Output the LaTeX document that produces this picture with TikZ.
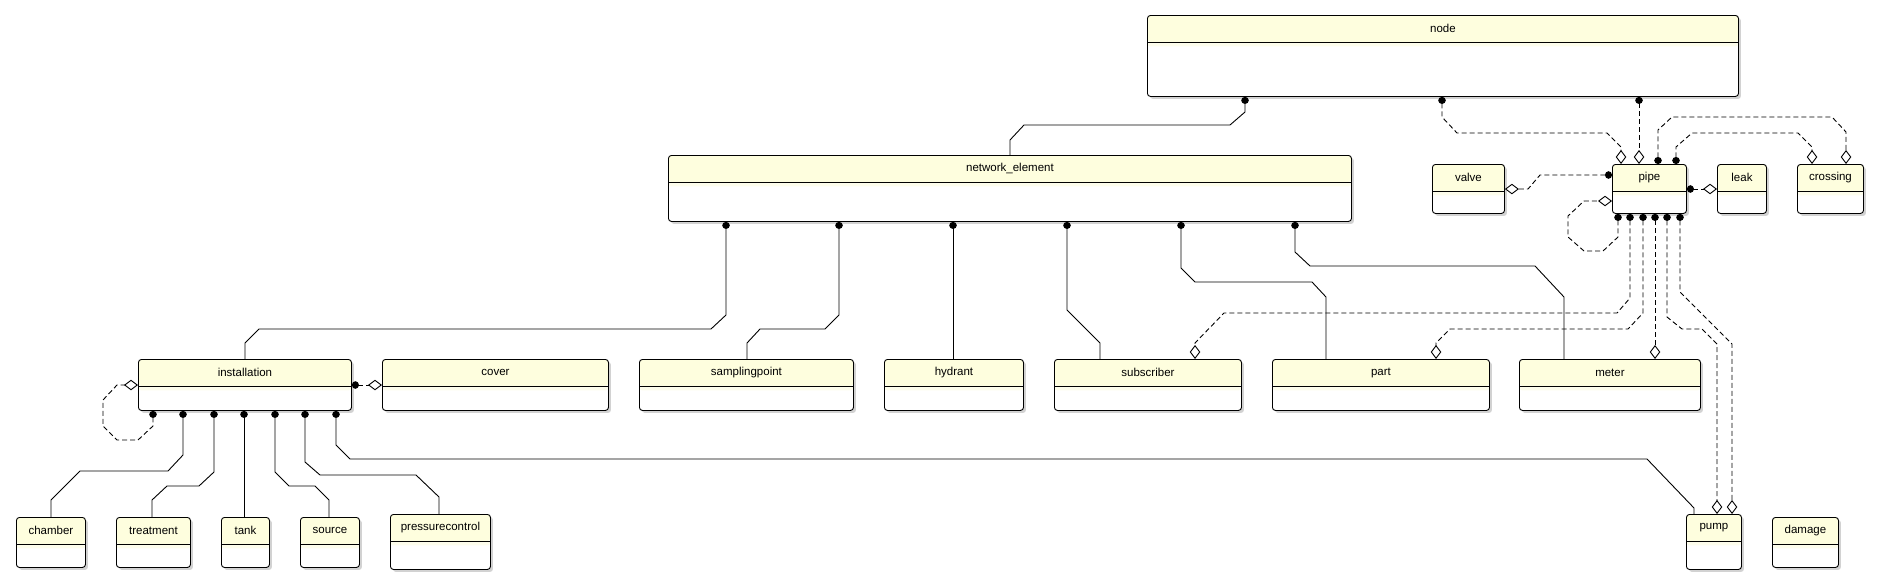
\documentclass[tikz,border=0pt]{standalone}
\usepackage{fontspec}
\setmainfont{Liberation Sans}
\usetikzlibrary{arrows.meta,shadows}
\definecolor{hdr}{RGB}{254,254,222}
\definecolor{band}{RGB}{253,253,236}
\tikzset{
 cls/.style={draw, line width=0.9pt, rounded corners=3pt, fill=white, inner sep=0pt,
   drop shadow={shadow xshift=2.5pt, shadow yshift=-2.5pt, opacity=0.25, fill=black!70},
   path picture={
     \fill[hdr] (path picture bounding box.north west) rectangle ([yshift=-26.5pt]path picture bounding box.north east);
     \fill[band] ([yshift=-26.5pt]path picture bounding box.north west) rectangle ([yshift=-31pt]path picture bounding box.north east);
     \draw[line width=0.9pt] ([yshift=-26.5pt]path picture bounding box.north west) -- ([yshift=-26.5pt]path picture bounding box.north east);
   }},
 lbl/.style={font=\fontsize{11.5}{13}\selectfont, inner sep=0pt},
 con/.style={line width=0.9pt, {Circle[length=7pt,width=7.5pt]}-},
 agg/.style={line width=0.9pt, dash pattern=on 5pt off 3pt, {Circle[length=7pt,width=7.5pt]}-{Diamond[open,length=14pt,width=10.5pt]}},
}
\newcommand{\umlc}[6]{%
 \node[cls, minimum width={(#4-#2)*1pt}, minimum height={(#5-#3)*1pt}, anchor=north west] (#1) at (#2,#3) {};
 \node[lbl] (#1-t) at ([yshift=-13.5pt]#1.north) {#6};}
\begin{document}
\begin{tikzpicture}[x=1pt,y=-1pt]
\useasboundingbox (0,0) rectangle (1879,584);
% classes
\umlc{nd}{1147}{15}{1738}{96}{node}
\umlc{netel}{668}{155}{1351}{221}{network\_element}
\umlc{valve}{1432}{164}{1504}{213}{valve}
\umlc{pipe}{1612}{164}{1686}{213}{pipe}
\umlc{leak}{1717}{164}{1766}{213}{leak}
\umlc{crossing}{1797}{164}{1863}{213}{crossing}
\umlc{inst}{138}{359}{351}{410}{installation}
\umlc{cover}{382}{359}{608}{410}{cover}
\umlc{sampl}{639}{359}{853}{410}{samplingpoint}
\umlc{hydrant}{884}{359}{1023}{410}{hydrant}
\umlc{subscr}{1054}{359}{1241}{410}{subscriber}
\umlc{part}{1272}{359}{1489}{410}{part}
\umlc{meter}{1519}{359}{1700}{410}{meter}
\umlc{chamber}{16}{517}{85}{567}{chamber}
\umlc{treat}{116}{517}{190}{567}{treatment}
\umlc{tank}{221}{517}{269}{567}{tank}
\umlc{source}{300}{517}{359}{567}{source}
\umlc{press}{390}{514}{490}{569}{pressurecontrol}
\umlc{pump}{1686}{514}{1741}{569}{pump}
\umlc{damage}{1772}{517}{1838}{567}{damage}
% node connectors
\draw[con] (1245,0 |- nd.south) -- (1245,112) -- (1230,125) -- (1024,125) -- (1010,140) -- (1010,0 |- netel.north);
\draw[agg] (1442,0 |- nd.south) -- (1442,117) -- (1457,133) -- (1607,133) -- (1621,147) -- (1621,0 |- pipe.north);
\draw[agg] (1639,0 |- nd.south) -- (1639,0 |- pipe.north);
% pipe connectors
\draw[agg] (1658,0 |- pipe.north) -- (1658,130) -- (1672,117) -- (1832,117) -- (1846,132) -- (1846,0 |- crossing.north);
\draw[agg] (1676,0 |- pipe.north) -- (1676,147) -- (1692,133) -- (1798,133) -- (1812,147) -- (1812,0 |- crossing.north);
\draw[agg] (pipe.west |- 0,175) -- (1540,175) -- (1528,189) -- (valve.east |- 0,189);
\draw[agg] (pipe.east |- 0,189) -- (leak.west |- 0,189);
\draw[agg] (1618,0 |- pipe.south) -- (1618,237) -- (1603,251) -- (1584,251) -- (1568,237) -- (1568,216) -- (1584,201) -- (pipe.west |- 0,201);
\draw[agg] (1630,0 |- pipe.south) -- (1630,298) -- (1617,313) -- (1224,313) -- (1195,343) -- (1195,0 |- subscr.north);
\draw[agg] (1643,0 |- pipe.south) -- (1643,313) -- (1628,329) -- (1450,329) -- (1436,343) -- (1436,0 |- part.north);
\draw[agg] (1655,0 |- pipe.south) -- (1655,0 |- meter.north);
\draw[agg] (1667,0 |- pipe.south) -- (1667,317) -- (1682,329) -- (1702,329) -- (1717,344) -- (1717,0 |- pump.north);
\draw[agg] (1680,0 |- pipe.south) -- (1680,292) -- (1732,344) -- (1732,0 |- pump.north);
% network element connectors
\draw[con] (726,0 |- netel.south) -- (726,315) -- (711,329) -- (259,329) -- (245,343) -- (245,0 |- inst.north);
\draw[con] (839,0 |- netel.south) -- (839,315) -- (825,329) -- (760,329) -- (747,343) -- (747,0 |- sampl.north);
\draw[con] (953,0 |- netel.south) -- (953,0 |- hydrant.north);
\draw[con] (1067,0 |- netel.south) -- (1067,310) -- (1100,343) -- (1100,0 |- subscr.north);
\draw[con] (1181,0 |- netel.south) -- (1181,268) -- (1195,282) -- (1312,282) -- (1326,297) -- (1326,0 |- part.north);
\draw[con] (1295,0 |- netel.south) -- (1295,252) -- (1310,266) -- (1535,266) -- (1564,297) -- (1564,0 |- meter.north);
% installation connectors
\draw[agg] (153,0 |- inst.south) -- (153,426) -- (138,440) -- (117,440) -- (103,426) -- (103,400) -- (117,385) -- (inst.west |- 0,385);
\draw[agg] (inst.east |- 0,385) -- (cover.west |- 0,385);
\draw[con] (183,0 |- inst.south) -- (183,455) -- (168,471) -- (80,471) -- (51,500) -- (51,0 |- chamber.north);
\draw[con] (214,0 |- inst.south) -- (214,472) -- (199,486) -- (167,486) -- (152,500) -- (152,0 |- treat.north);
\draw[con] (244,0 |- inst.south) -- (244,0 |- tank.north);
\draw[con] (275,0 |- inst.south) -- (275,472) -- (289,486) -- (315,486) -- (329,500) -- (329,0 |- source.north);
\draw[con] (305,0 |- inst.south) -- (305,462) -- (320,475) -- (416,475) -- (439,497) -- (439,0 |- press.north);
\draw[con] (336,0 |- inst.south) -- (336,445) -- (350,459) -- (1647,459) -- (1694,508) -- (1694,0 |- pump.north);
\end{tikzpicture}
\end{document}
